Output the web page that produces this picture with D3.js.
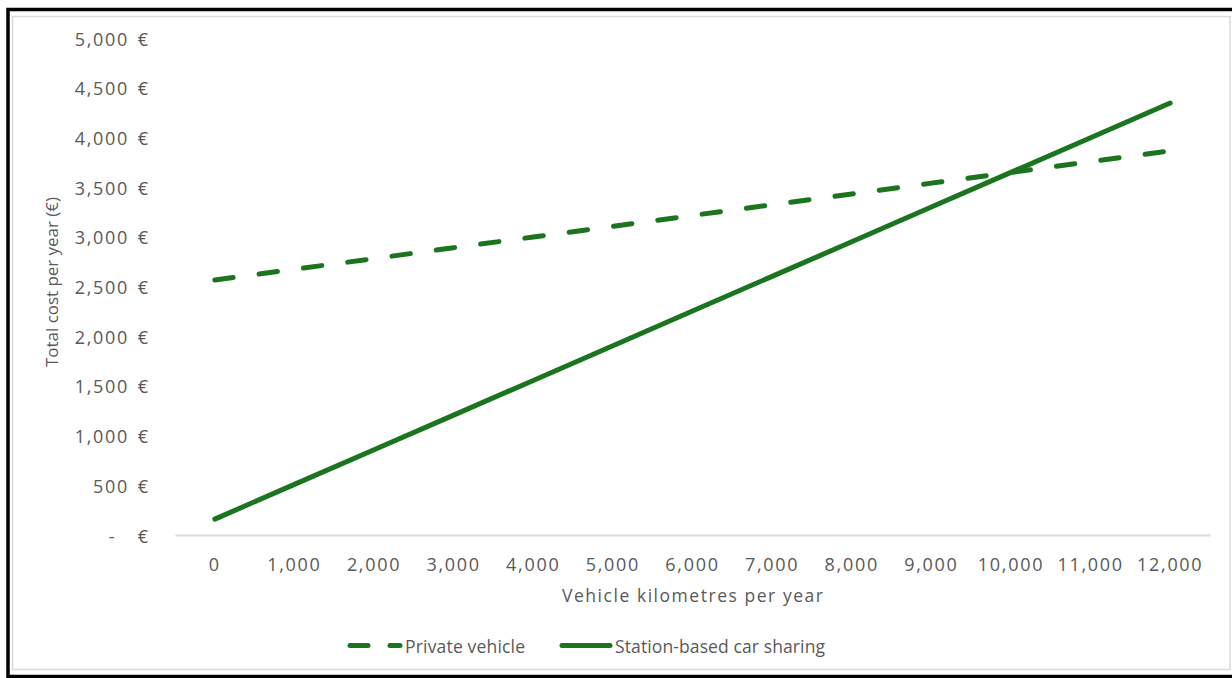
<!DOCTYPE html>
<html>
<head>
<meta charset="utf-8">
<script src="https://cdn.jsdelivr.net/npm/d3@7"></script>
<style>
  html, body { margin: 0; padding: 0; background: #fff; }
  svg { display: block; }
  text { font-family: "Open Sans", sans-serif; fill: #595959; }
</style>
</head>
<body>
<svg id="chart" width="1232" height="678"></svg>
<script>
// Annual kilometres driven (x categories)
const kilometres = [0, 1000, 2000, 3000, 4000, 5000, 6000, 7000, 8000, 9000, 10000, 11000, 12000];
// Total yearly cost in euro for each option
const privateVehicle = [2565, 2673, 2781, 2890, 2998, 3106, 3215, 3323, 3431, 3540, 3648, 3756, 3865];
const carSharing = [160, 509, 858, 1206, 1555, 1904, 2253, 2602, 2950, 3299, 3648, 3997, 4346];
// Value axis ticks
const costTicks = [0, 500, 1000, 1500, 2000, 2500, 3000, 3500, 4000, 4500, 5000];

const seriesNames = ["Private vehicle", "Station-based car sharing"];
const green = "#1b751f";

const svg = d3.select("#chart");

// Outer frame and inner chart border
svg.append("rect").attr("x", 0).attr("y", 0).attr("width", 1232).attr("height", 678).attr("fill", "#fff");
svg.append("rect")
  .attr("x", 8).attr("y", 9.5).attr("width", 1240).attr("height", 667)
  .attr("fill", "none").attr("stroke", "#000").attr("stroke-width", 3.5);
svg.append("rect")
  .attr("x", 12.5).attr("y", 16.5).attr("width", 1217.5).attr("height", 653)
  .attr("fill", "none").attr("stroke", "#d9d9d9").attr("stroke-width", 1.5);

const x = d3.scaleBand().domain(kilometres).range([175, 1210]).padding(0);
const y = d3.scaleLinear().domain([0, 5000]).range([535, 38]);
const cx = d => x(d) + x.bandwidth() / 2;

const labelStyle = sel => sel
  .attr("font-size", 18).attr("letter-spacing", 1.7)
  .attr("fill", "#595959").attr("font-family", "Open Sans, sans-serif")
  .attr("dy", "0").attr("dominant-baseline", "central");

// Category axis
const xAxis = svg.append("g")
  .attr("transform", "translate(0,535)")
  .call(d3.axisBottom(x).tickSize(0).tickPadding(28.5).tickFormat(d3.format(",")));
xAxis.select(".domain").attr("stroke", "#d9d9d9").attr("stroke-width", 2);
xAxis.selectAll("text").call(labelStyle);

// Value axis (no line, labels in accounting style)
const yAxis = svg.append("g")
  .attr("transform", "translate(129,0)")
  .call(d3.axisLeft(y).tickValues(costTicks).tickSize(0).tickPadding(0)
    .tickFormat(d => d === 0 ? "-\u00a0\u00a0" : d3.format(",")(d)));
yAxis.select(".domain").remove();
yAxis.selectAll("text").call(labelStyle);
yAxis.selectAll(".tick").append("text")
  .attr("x", 19).attr("text-anchor", "end")
  .attr("dominant-baseline", "central")
  .attr("font-size", 18).attr("fill", "#595959")
  .attr("font-family", "Open Sans, sans-serif")
  .text("€");

// Axis titles
svg.append("text")
  .attr("x", 562).attr("y", 594.5)
  .attr("dominant-baseline", "central")
  .attr("font-size", 17.5)
  .attr("textLength", 261).attr("lengthAdjust", "spacing")
  .text("Vehicle kilometres per year");

svg.append("text")
  .attr("transform", "translate(51,367) rotate(-90)")
  .attr("dominant-baseline", "central")
  .attr("font-size", 17)
  .attr("textLength", 170).attr("lengthAdjust", "spacingAndGlyphs")
  .text("Total cost per year (€)");

// Series lines
const line = d3.line().x((d, i) => cx(kilometres[i])).y(d => y(d));

svg.append("path")
  .datum(privateVehicle)
  .attr("d", line)
  .attr("fill", "none").attr("stroke", green).attr("stroke-width", 5)
  .attr("stroke-linecap", "round").attr("stroke-dasharray", "18.5,26.2");

svg.append("path")
  .datum(carSharing)
  .attr("d", line)
  .attr("fill", "none").attr("stroke", green).attr("stroke-width", 5)
  .attr("stroke-linecap", "round");

// Legend
const legend = svg.append("g");
legend.append("line")
  .attr("x1", 350).attr("x2", 400).attr("y1", 645.5).attr("y2", 645.5)
  .attr("stroke", green).attr("stroke-width", 5).attr("stroke-linecap", "round")
  .attr("stroke-dasharray", "18,22");
legend.append("text")
  .attr("x", 405).attr("y", 645.5).attr("dominant-baseline", "central")
  .attr("font-size", 17.5).attr("textLength", 120).attr("lengthAdjust", "spacing")
  .text(seriesNames[0]);
legend.append("line")
  .attr("x1", 562).attr("x2", 610).attr("y1", 645.5).attr("y2", 645.5)
  .attr("stroke", green).attr("stroke-width", 5).attr("stroke-linecap", "round");
legend.append("text")
  .attr("x", 615).attr("y", 645.5).attr("dominant-baseline", "central")
  .attr("font-size", 17.5).attr("textLength", 210).attr("lengthAdjust", "spacing")
  .text(seriesNames[1]);
</script>
</body>
</html>
